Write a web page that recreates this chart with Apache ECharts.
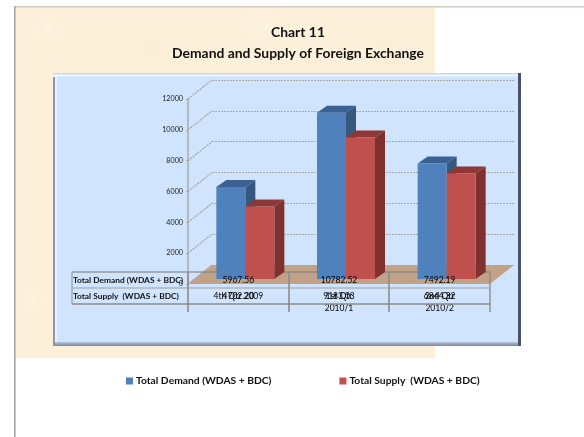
<!DOCTYPE html>
<html lang="en">
<head>
    <meta charset="UTF-8">
    <title>Chart 11</title>
    <script src="https://cdn.jsdelivr.net/npm/echarts@6/dist/echarts.min.js"></script>
    <style>
        html, body { margin: 0; padding: 0; background: #fff; }
        #main { width: 584px; height: 437px; }
    </style>
</head>
<body>
<div id="main"></div>

<script>
    var categories = ['4th Qtr 2009', '1st Qtr\n2010/1', '2nd Qtr\n2010/2'];
    var demand = [5967.56, 10782.52, 7492.19];
    var supply = [4702.20, 9183.03, 6844.32];
    var yTicks = [0, 2000, 4000, 6000, 8000, 10000, 12000];
    var demandName = 'Total Demand (WDAS + BDC)';
    var supplyName = 'Total Supply  (WDAS + BDC)';

    var fontName = 'Lato';
    var myChart = echarts.init(document.getElementById('main'));

    // bars stand a little way into the 3d box
    var shiftX = 7, shiftY = -5, capX = 10, capY = -7, barW = 29;
    // depth of the box, front axes to back wall
    var depthX = 24, depthY = -19;

    function barItem(front, side, top, offset) {
        return function (params, api) {
            var p = api.coord([api.value(0), api.value(1)]);
            var base = api.coord([api.value(0), 0]);
            var x0 = p[0] + shiftX + offset;
            var x1 = x0 + barW;
            var y0 = p[1] + shiftY;
            var y1 = base[1] + shiftY;
            return {
                type: 'group',
                children: [
                    {type: 'polygon', shape: {points: [[x1, y0], [x1 + capX, y0 + capY], [x1 + capX, y1 + capY], [x1, y1]]},
                        style: {fill: side}},
                    {type: 'polygon', shape: {points: [[x0, y0], [x0 + capX, y0 + capY], [x1 + capX, y0 + capY], [x1, y0]]},
                        style: {fill: top}},
                    {type: 'rect', shape: {x: x0, y: y0, width: barW, height: y1 - y0}, style: {fill: front}}
                ]
            };
        };
    }

    // diagonal lines on the side wall, plus the floor at value 0
    function wallItem(params, api) {
        var p = api.coord([0, api.value(1)]);
        var sys = params.coordSys;
        var children = [{
            type: 'line',
            shape: {x1: sys.x, y1: p[1], x2: sys.x + depthX, y2: p[1] + depthY},
            style: {stroke: '#a6a6a6', lineWidth: 1.2, lineDash: [2, 1]}
        }];
        if (api.value(1) === 0) {
            children.unshift({
                type: 'polygon',
                shape: {points: [[sys.x, p[1]], [sys.x + sys.width, p[1]], [sys.x + sys.width + depthX, p[1] + depthY], [sys.x + depthX, p[1] + depthY]]},
                style: {fill: '#c2a287'}
            });
        }
        return {type: 'group', children: children};
    }

    // the two value rows of the data table under the axis
    function tableItem(params, api) {
        var p = api.coord([api.value(0), 0]);
        var font = '8.5px ' + fontName;
        return {
            type: 'group',
            children: [
                {type: 'text', style: {text: api.value(1).toFixed(2), x: p[0], y: p[1] - 4, align: 'center', verticalAlign: 'middle', font: font, fill: '#000'}},
                {type: 'text', style: {text: api.value(2).toFixed(2), x: p[0], y: p[1] + 12, align: 'center', verticalAlign: 'middle', font: font, fill: '#000'}}
            ]
        };
    }

    function tableLine(x1, y1, x2, y2, color, width) {
        return {type: 'line', z: 3, shape: {x1: x1, y1: y1, x2: x2, y2: y2}, style: {stroke: color, lineWidth: width}};
    }

    function rowHead(text, y) {
        return {type: 'text', z: 7, style: {text: text, x: 73, y: y, verticalAlign: 'middle', font: 'bold 8.4px ' + fontName, fill: '#111'}};
    }

    function blotch(x, y, r, color) {
        return {type: 'circle', z: -9, shape: {cx: x, cy: y, r: r}, style: {
            fill: new echarts.graphic.RadialGradient(0.5, 0.5, 0.5, [
                {offset: 0, color: color},
                {offset: 1, color: 'rgba(252,240,218,0)'}
            ])
        }};
    }

    var backdrop = [
        {type: 'rect', z: -10, shape: {x: 15, y: 6, width: 420, height: 352}, style: {fill: '#fcf0da'}},
        blotch(48, 30, 22, 'rgba(255,248,236,0.4)'),
        blotch(150, 50, 32, 'rgba(249,232,200,0.35)'),
        blotch(260, 22, 30, 'rgba(255,247,232,0.4)'),
        blotch(385, 45, 36, 'rgba(250,234,204,0.35)'),
        blotch(34, 150, 18, 'rgba(250,234,204,0.35)'),
        blotch(34, 300, 18, 'rgba(255,247,232,0.4)'),
        {type: 'rect', z: -8, shape: {x: 14, y: 6, width: 570, height: 1.5}, style: {fill: '#cfcac4'}},
        {type: 'rect', z: -8, shape: {x: 14, y: 6, width: 1.6, height: 431}, style: {fill: '#a9a6a2'}},

        // panel with bevelled edge
        {type: 'rect', z: -7, shape: {x: 53, y: 73, width: 468, height: 273}, style: {fill: '#8c98aa'}},
        {type: 'rect', z: -6, shape: {x: 55, y: 73, width: 463, height: 270}, style: {fill: '#d0e4fd'}},
        {type: 'rect', z: -5, shape: {x: 53, y: 73, width: 465, height: 4}, style: {
            fill: new echarts.graphic.LinearGradient(0, 0, 0, 1, [
                {offset: 0, color: '#b5d0ee'},
                {offset: 0.6, color: '#f2f8ff'},
                {offset: 1, color: '#d0e4fd'}
            ])
        }},
        {type: 'rect', z: -5, shape: {x: 55, y: 76, width: 2, height: 267}, style: {fill: '#e8f2ff'}},
        {type: 'rect', z: -5, shape: {x: 518, y: 73, width: 3, height: 273}, style: {fill: '#46546a'}},
        {type: 'rect', z: -5, shape: {x: 55, y: 342, width: 463, height: 4}, style: {
            fill: new echarts.graphic.LinearGradient(0, 0, 0, 1, [
                {offset: 0, color: '#b4c4dc'},
                {offset: 1, color: '#7c899e'}
            ])
        }}
    ];

    var table = [
        tableLine(72, 272, 490, 272, 'rgba(130,130,130,0.75)', 1.4),
        tableLine(72, 288, 490, 288, '#aeb6c2', 1.6),
        tableLine(72, 304, 490, 304, '#8c8c8c', 1.4),
        tableLine(72, 272, 72, 304, '#9a9a9a', 1.2),
        tableLine(188, 272, 188, 312, '#8c8c8c', 1.6),
        tableLine(289, 272, 289, 312, '#8c8c8c', 1.6),
        tableLine(389, 272, 389, 312, '#8c8c8c', 1.6),
        tableLine(490, 272, 490, 312, '#8c8c8c', 1.4),
        rowHead(demandName, 280),
        rowHead(supplyName, 296)
    ];

    var option = {
        animation: false,
        title: {
            text: 'Chart 11\nDemand and Supply of Foreign Exchange',
            left: 293,
            top: 17,
            textAlign: 'center',
            textStyle: {fontFamily: fontName, fontWeight: 'bold', fontSize: 13.9, lineHeight: 21, color: '#111'}
        },
        legend: {
            left: 121,
            top: 371,
            itemWidth: 7,
            itemHeight: 7,
            itemGap: 68,
            icon: 'rect',
            selectedMode: false,
            data: [demandName, supplyName],
            textStyle: {fontFamily: fontName, fontWeight: 'bold', fontSize: 10.3, color: '#111', padding: [0, 0, 0, -2]}
        },
        graphic: {elements: backdrop.concat(table)},
        grid: [
            {left: 188, top: 99, width: 302, height: 185},
            {left: 212, top: 80, width: 302, height: 185}
        ],
        xAxis: [
            {
                type: 'category',
                data: categories,
                gridIndex: 0,
                axisLine: {show: false},
                axisTick: {show: false},
                axisLabel: {margin: 6, fontFamily: fontName, fontSize: 8.5, lineHeight: 12, color: '#000', interval: 0}
            },
            {type: 'category', data: categories, gridIndex: 1, show: false}
        ],
        yAxis: [
            {
                type: 'value',
                gridIndex: 0,
                min: 0,
                max: 12000,
                interval: 2000,
                splitLine: {show: false},
                axisLine: {show: true, lineStyle: {color: '#a6a6a6', width: 1.5, type: [2, 1]}},
                axisTick: {show: true, length: 2, lineStyle: {color: '#a6a6a6'}},
                axisLabel: {
                    margin: 5,
                    fontFamily: fontName,
                    fontSize: 7.2,
                    color: '#222',
                    formatter: function (v) { return String(v); }
                }
            },
            {
                type: 'value',
                gridIndex: 1,
                min: 0,
                max: 12000,
                interval: 2000,
                axisLine: {show: false},
                axisTick: {show: false},
                axisLabel: {show: false},
                splitLine: {show: true, lineStyle: {color: '#a9a9a9', width: 1.2, type: [2, 1]}}
            }
        ],
        series: [
            {
                type: 'custom',
                z: 1,
                silent: true,
                xAxisIndex: 0,
                yAxisIndex: 0,
                renderItem: wallItem,
                data: yTicks.map(function (v) { return [0, v]; })
            },
            {
                name: demandName,
                type: 'custom',
                z: 5,
                xAxisIndex: 0,
                yAxisIndex: 0,
                itemStyle: {color: '#4f81bd'},
                renderItem: barItem('#4f81bd', '#36587f', '#3a6192', -barW),
                data: demand.map(function (v, i) { return [i, v]; })
            },
            {
                name: supplyName,
                type: 'custom',
                z: 5,
                xAxisIndex: 0,
                yAxisIndex: 0,
                itemStyle: {color: '#c0504d'},
                renderItem: barItem('#c0504d', '#7f312f', '#8e3735', 0),
                data: supply.map(function (v, i) { return [i, v]; })
            },
            {
                type: 'custom',
                z: 6,
                silent: true,
                xAxisIndex: 0,
                yAxisIndex: 0,
                renderItem: tableItem,
                data: demand.map(function (v, i) { return [i, v, supply[i]]; })
            }
        ]
    };

    myChart.setOption(option);
</script>
</body>
</html>
